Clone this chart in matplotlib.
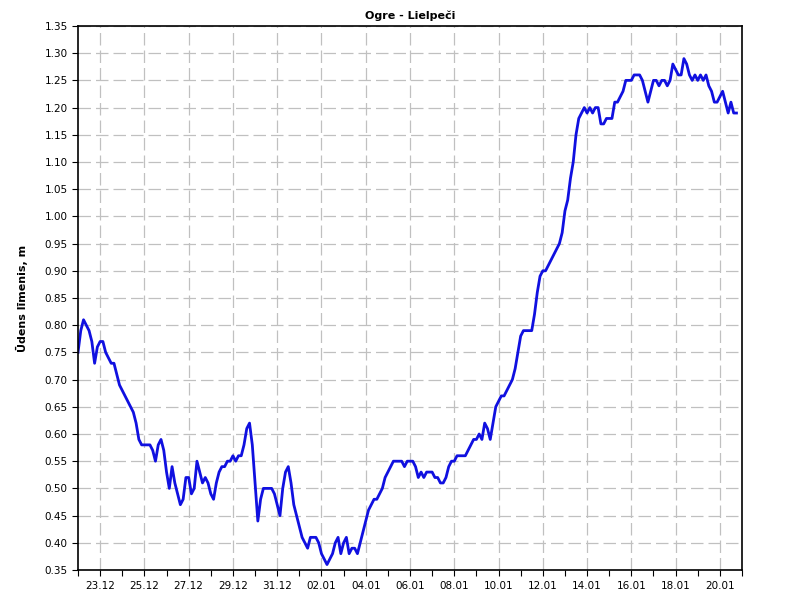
import numpy as np
import pandas as pd
import matplotlib
matplotlib.use('Agg')
import matplotlib.pyplot as plt
import matplotlib.dates as mdates

plt.rcParams['font.family'] = ['DejaVu Sans']

# ūdens līmenis ik pa 3 stundām, sākot ar 22.12 00:00
level = [
    0.75, 0.79, 0.81, 0.80, 0.79, 0.77, 0.73, 0.76,  # 22.12
    0.77, 0.77, 0.75, 0.74, 0.73, 0.73, 0.71, 0.69,  # 23.12
    0.68, 0.67, 0.66, 0.65, 0.64, 0.62, 0.59, 0.58,  # 24.12
    0.58, 0.58, 0.58, 0.57, 0.55, 0.58, 0.59, 0.57,  # 25.12
    0.53, 0.50, 0.54, 0.51, 0.49, 0.47, 0.48, 0.52,  # 26.12
    0.52, 0.49, 0.50, 0.55, 0.53, 0.51, 0.52, 0.51,  # 27.12
    0.49, 0.48, 0.51, 0.53, 0.54, 0.54, 0.55, 0.55,  # 28.12
    0.56, 0.55, 0.56, 0.56, 0.58, 0.61, 0.62, 0.58,  # 29.12
    0.51, 0.44, 0.48, 0.50, 0.50, 0.50, 0.50, 0.49,  # 30.12
    0.47, 0.45, 0.50, 0.53, 0.54, 0.51, 0.47, 0.45,  # 31.12
    0.43, 0.41, 0.40, 0.39, 0.41, 0.41, 0.41, 0.40,  # 01.01
    0.38, 0.37, 0.36, 0.37, 0.38, 0.40, 0.41, 0.38,  # 02.01
    0.40, 0.41, 0.38, 0.39, 0.39, 0.38, 0.40, 0.42,  # 03.01
    0.44, 0.46, 0.47, 0.48, 0.48, 0.49, 0.50, 0.52,  # 04.01
    0.53, 0.54, 0.55, 0.55, 0.55, 0.55, 0.54, 0.55,  # 05.01
    0.55, 0.55, 0.54, 0.52, 0.53, 0.52, 0.53, 0.53,  # 06.01
    0.53, 0.52, 0.52, 0.51, 0.51, 0.52, 0.54, 0.55,  # 07.01
    0.55, 0.56, 0.56, 0.56, 0.56, 0.57, 0.58, 0.59,  # 08.01
    0.59, 0.60, 0.59, 0.62, 0.61, 0.59, 0.62, 0.65,  # 09.01
    0.66, 0.67, 0.67, 0.68, 0.69, 0.70, 0.72, 0.75,  # 10.01
    0.78, 0.79, 0.79, 0.79, 0.79, 0.82, 0.86, 0.89,  # 11.01
    0.90, 0.90, 0.91, 0.92, 0.93, 0.94, 0.95, 0.97,  # 12.01
    1.01, 1.03, 1.07, 1.10, 1.15, 1.18, 1.19, 1.20,  # 13.01
    1.19, 1.20, 1.19, 1.20, 1.20, 1.17, 1.17, 1.18,  # 14.01
    1.18, 1.18, 1.21, 1.21, 1.22, 1.23, 1.25, 1.25,  # 15.01
    1.25, 1.26, 1.26, 1.26, 1.25, 1.23, 1.21, 1.23,  # 16.01
    1.25, 1.25, 1.24, 1.25, 1.25, 1.24, 1.25, 1.28,  # 17.01
    1.27, 1.26, 1.26, 1.29, 1.28, 1.26, 1.25, 1.26,  # 18.01
    1.25, 1.26, 1.25, 1.26, 1.24, 1.23, 1.21, 1.21,  # 19.01
    1.22, 1.23, 1.21, 1.19, 1.21, 1.19, 1.19,        # 20.01
]
times = pd.date_range('2012-12-22 00:00', periods=len(level), freq='3h')

major_days = pd.date_range('2012-12-23', '2013-01-20', freq='2D')
y_ticks = np.arange(0.35, 1.351, 0.05)

fig = plt.figure(figsize=(8, 6), dpi=100)
ax = fig.add_axes([0.0975, 0.05, 0.83, 0.9067])

ax.plot(times, level, color='#1010e0', linewidth=2.0)

ax.set_xlim(pd.Timestamp('2012-12-22'), pd.Timestamp('2013-01-21'))
ax.set_ylim(0.35, 1.35)
ax.set_yticks(y_ticks)
ax.yaxis.set_major_formatter(plt.FuncFormatter(lambda v, p: f"{v:.2f}"))

ax.set_xticks(major_days)
ax.xaxis.set_major_formatter(mdates.DateFormatter('%d.%m'))
ax.xaxis.set_minor_locator(mdates.DayLocator())

ax.grid(True, which='major', color='#c0c0c0', linestyle=(0, (10, 4)), linewidth=0.9)
ax.tick_params(axis='both', which='both', direction='out', length=4, width=0.8,
               labelsize=7.5, color='black')
ax.tick_params(axis='x', pad=4)
for s in ax.spines.values():
    s.set_linewidth(1.2)
    s.set_color('black')

ax.set_title('Ogre - Lielpeči', fontsize=8, fontweight='bold', pad=5)
ax.set_ylabel('Ūdens līmenis, m', fontsize=8, fontweight='bold', labelpad=12)

fig.savefig('out.png', dpi=100)
